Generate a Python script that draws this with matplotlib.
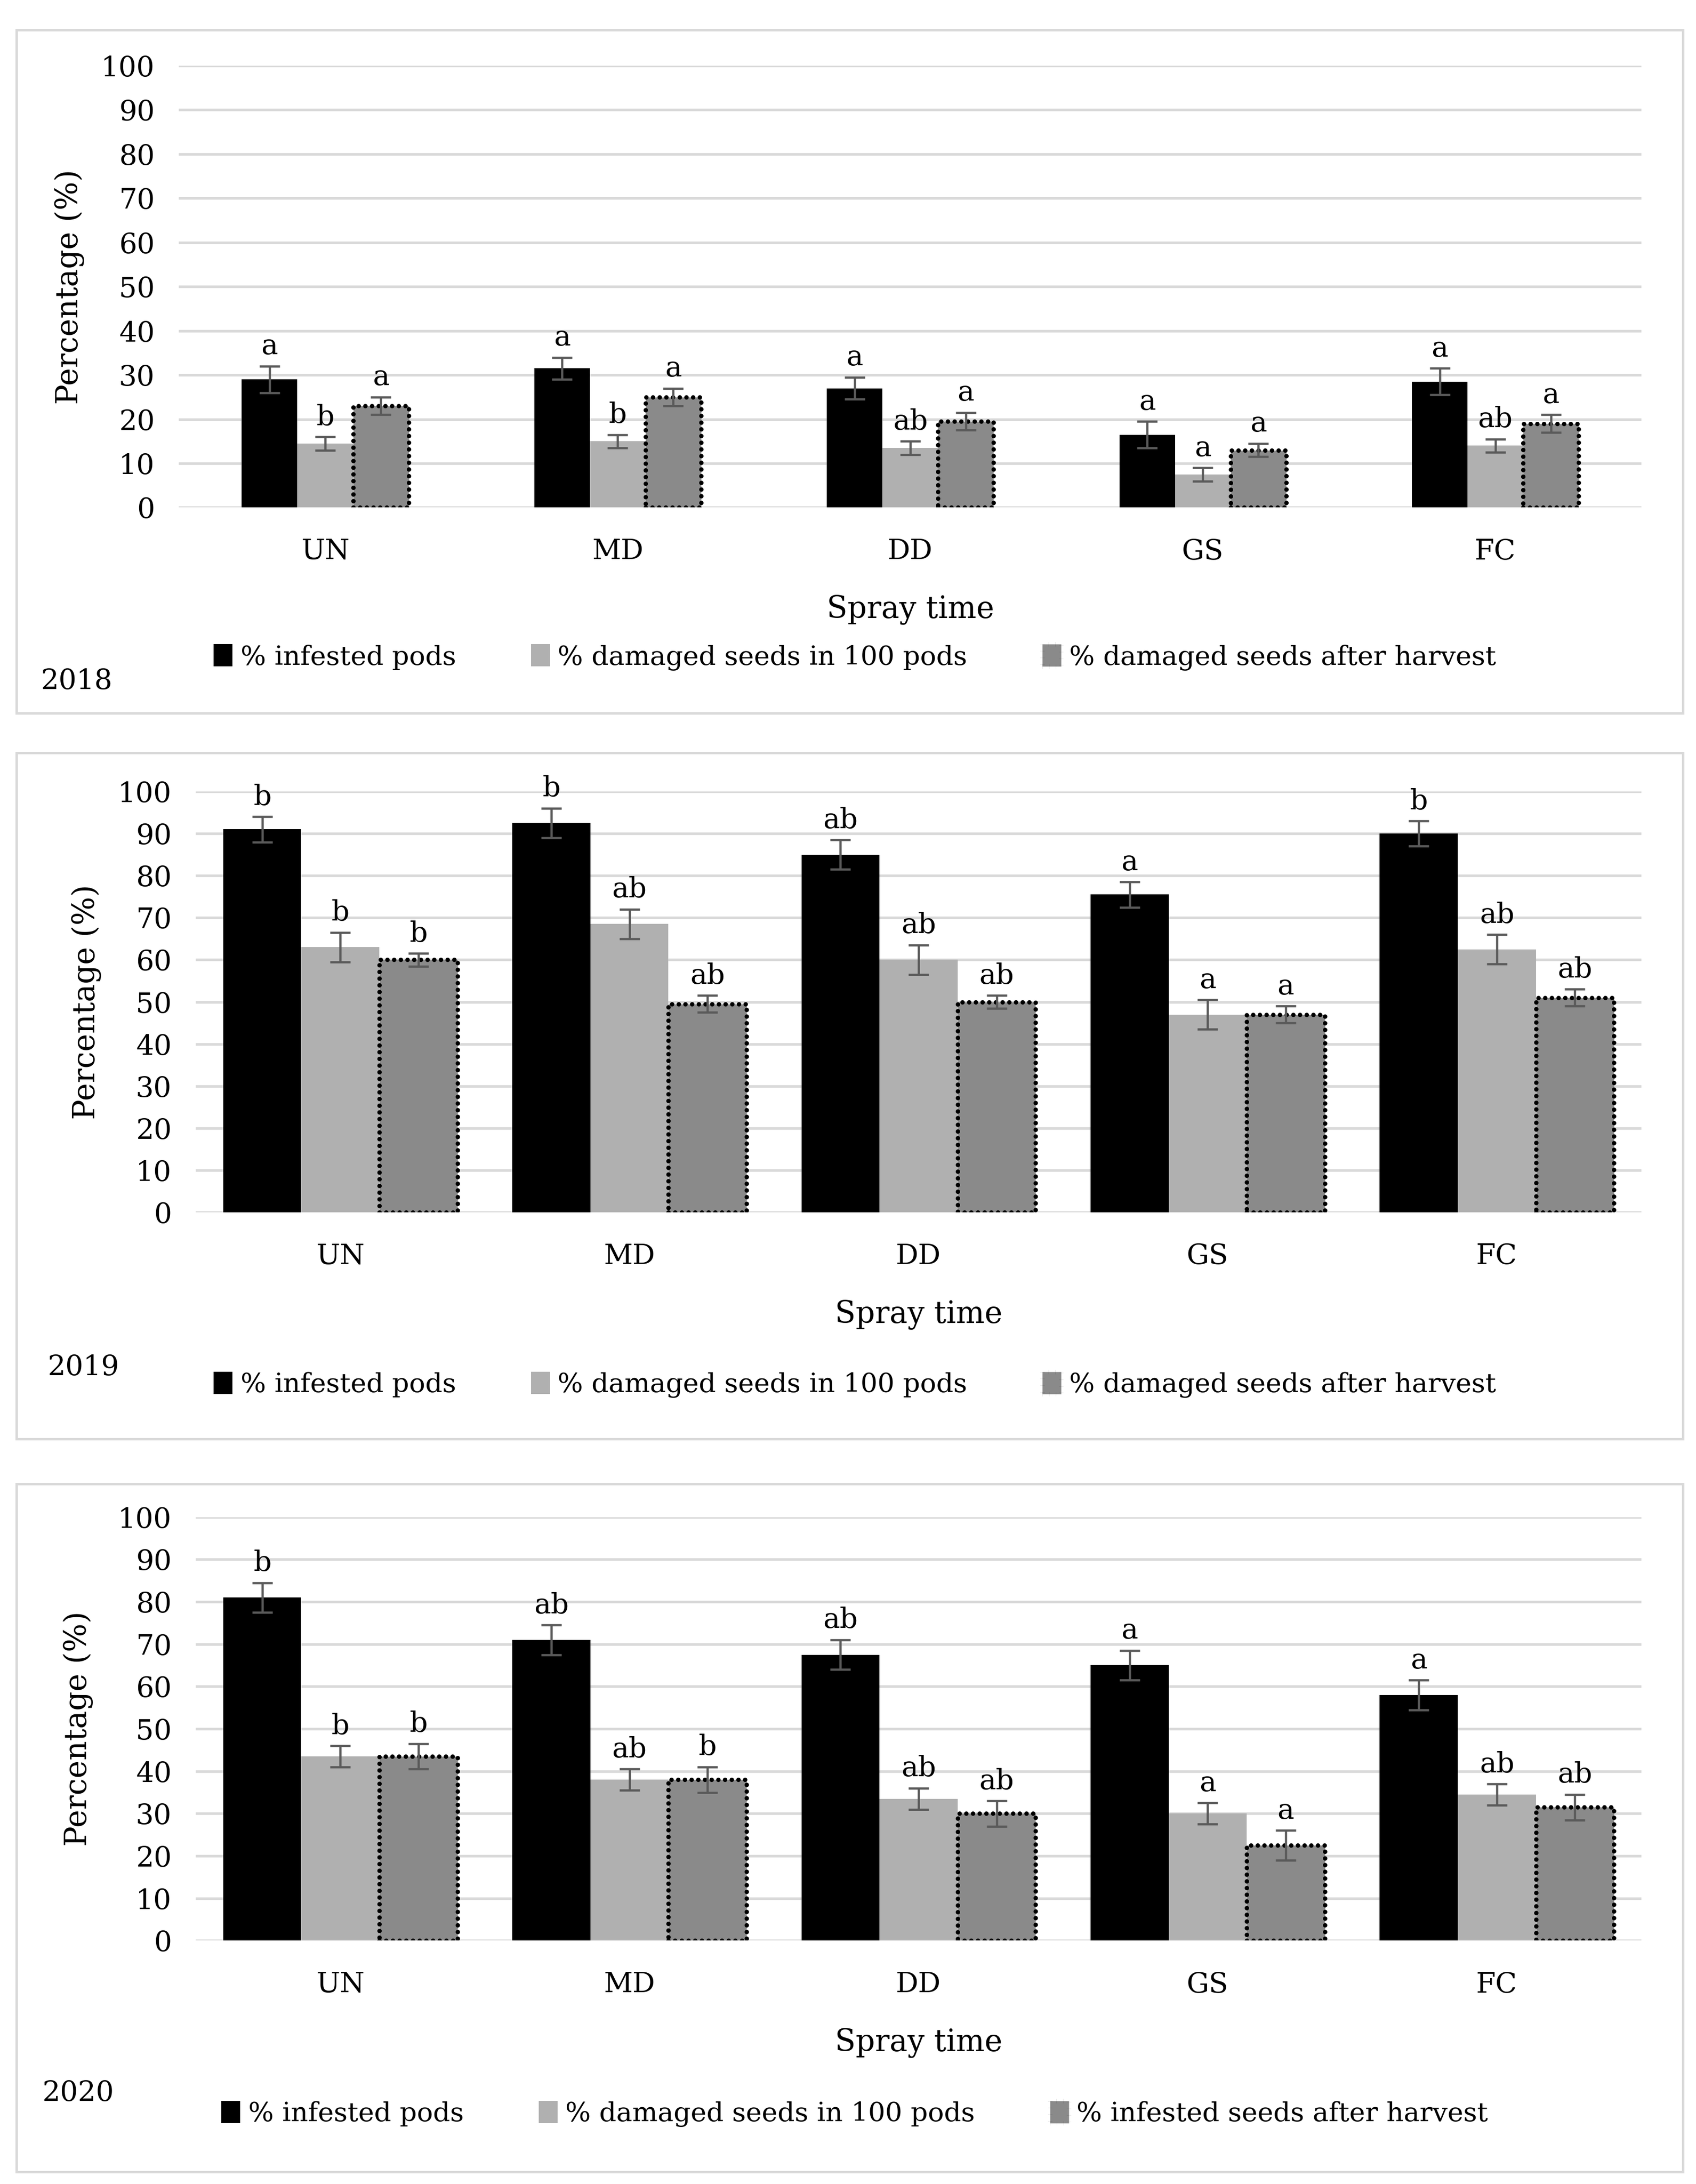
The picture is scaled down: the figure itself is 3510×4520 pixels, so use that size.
import numpy as np
from matplotlib import pyplot as plt
from matplotlib.patches import Rectangle, Patch

plt.rcParams['font.family'] = ['DejaVu Serif']

categories = ['UN', 'MD', 'DD', 'GS', 'FC']
years = ['2018', '2019', '2020']

# 2018
inf_2018 = [29, 31.5, 27, 16.5, 28.5]
dam_2018 = [14.5, 15, 13.5, 7.5, 14]
aft_2018 = [23, 25, 19.5, 13, 19]
inf_err_2018 = [3, 2.5, 2.5, 3, 3]
dam_err_2018 = [1.5, 1.5, 1.5, 1.5, 1.5]
aft_err_2018 = [2, 2, 2, 1.5, 2]
inf_let_2018 = ['a', 'a', 'a', 'a', 'a']
dam_let_2018 = ['b', 'b', 'ab', 'a', 'ab']
aft_let_2018 = ['a', 'a', 'a', 'a', 'a']

# 2019
inf_2019 = [91, 92.5, 85, 75.5, 90]
dam_2019 = [63, 68.5, 60, 47, 62.5]
aft_2019 = [60, 49.5, 50, 47, 51]
inf_err_2019 = [3, 3.5, 3.5, 3, 3]
dam_err_2019 = [3.5, 3.5, 3.5, 3.5, 3.5]
aft_err_2019 = [1.5, 2, 1.5, 2, 2]
inf_let_2019 = ['b', 'b', 'ab', 'a', 'b']
dam_let_2019 = ['b', 'ab', 'ab', 'a', 'ab']
aft_let_2019 = ['b', 'ab', 'ab', 'a', 'ab']

# 2020
inf_2020 = [81, 71, 67.5, 65, 58]
dam_2020 = [43.5, 38, 33.5, 30, 34.5]
aft_2020 = [43.5, 38, 30, 22.5, 31.5]
inf_err_2020 = [3.5, 3.5, 3.5, 3.5, 3.5]
dam_err_2020 = [2.5, 2.5, 2.5, 2.5, 2.5]
aft_err_2020 = [3, 3, 3, 3.5, 3]
inf_let_2020 = ['b', 'ab', 'ab', 'a', 'a']
dam_let_2020 = ['b', 'ab', 'ab', 'a', 'ab']
aft_let_2020 = ['b', 'b', 'ab', 'a', 'ab']

series_names = ['% infested pods', '% damaged seeds in 100 pods', '% damaged seeds after harvest']
series_names_2020 = ['% infested pods', '% damaged seeds in 100 pods', '% infested seeds after harvest']

BLACK = '#000000'
LIGHT = '#b0b0b0'
DARK = '#8a8a8a'
GRID = '#d9d9d9'
ERR = '#5a5a5a'
DOTS = (0, (0.01, 1.5))
DOT_LW = 2.2

fig = plt.figure(figsize=(11.7, 15.0667), dpi=300)

panels = [
    dict(vals=[inf_2018, dam_2018, aft_2018], errs=[inf_err_2018, dam_err_2018, aft_err_2018],
         lets=[inf_let_2018, dam_let_2018, aft_let_2018], names=series_names,
         pos=[0.1055, 0.7676, 0.8624, 0.2023], w=0.19, box=(0.0097, 0.6735, 0.9826, 0.3128),
         leg_y=0.699, year=(0.045, 0.688), spray_y=0.7209, ylab_x=0.041),
    dict(vals=[inf_2019, dam_2019, aft_2019], errs=[inf_err_2019, dam_err_2019, aft_err_2019],
         lets=[inf_let_2019, dam_let_2019, aft_let_2019], names=series_names,
         pos=[0.1154, 0.4449, 0.8524, 0.1927], w=0.27, box=(0.0097, 0.3412, 0.9826, 0.3141),
         leg_y=0.366, year=(0.049, 0.374), spray_y=0.398, ylab_x=0.051),
    dict(vals=[inf_2020, dam_2020, aft_2020], errs=[inf_err_2020, dam_err_2020, aft_err_2020],
         lets=[inf_let_2020, dam_let_2020, aft_let_2020], names=series_names_2020,
         pos=[0.1154, 0.1114, 0.8524, 0.1940], w=0.27, box=(0.0097, 0.0055, 0.9826, 0.3151),
         leg_y=0.032, year=(0.046, 0.0416), spray_y=0.0647, ylab_x=0.046),
]

x = np.arange(len(categories))
colors = [BLACK, LIGHT, DARK]

for p, yr in zip(panels, years):
    # panel frame
    fig.patches.append(Rectangle(p['box'][:2], p['box'][2], p['box'][3], transform=fig.transFigure,
                                 facecolor='none', edgecolor=GRID, linewidth=1.2))
    ax = fig.add_axes(p['pos'])
    w = p['w']
    for i in range(3):
        xs = x + (i - 1) * w
        if i == 2:
            bars = ax.bar(xs, p['vals'][i], w, color=colors[i], edgecolor='black',
                          linewidth=DOT_LW, linestyle=DOTS, zorder=3)
            for b in bars:
                b.set_capstyle('round')
        else:
            ax.bar(xs, p['vals'][i], w, color=colors[i], edgecolor='none', zorder=3)
        ax.errorbar(xs, p['vals'][i], yerr=p['errs'][i], fmt='none', ecolor=ERR,
                    elinewidth=1.1, capsize=5, capthick=1.1, zorder=4)
        for xi, v, e, t in zip(xs, p['vals'][i], p['errs'][i], p['lets'][i]):
            ax.annotate(t, (xi, v + e), xytext=(0, 3), textcoords='offset points',
                        ha='center', va='bottom', fontsize=14)
    ax.set_xlim(-0.5, 4.5)
    ax.set_ylim(0, 100)
    ax.set_yticks(range(0, 101, 10))
    ax.set_xticks(x)
    ax.set_xticklabels(categories)
    ax.grid(axis='y', color=GRID, linewidth=1.3, zorder=0)
    ax.set_axisbelow(True)
    for s in ax.spines.values():
        s.set_visible(False)
    ax.tick_params(axis='both', length=0, labelsize=14)
    ax.tick_params(axis='x', pad=15)
    ax.tick_params(axis='y', pad=12)

    cx = p['pos'][0] + p['pos'][2] / 2
    cy = p['pos'][1] + p['pos'][3] / 2
    fig.text(cx, p['spray_y'], 'Spray time', ha='center', va='center', fontsize=15)
    fig.text(p['ylab_x'], cy, 'Percentage (%)', rotation=90, ha='center', va='center', fontsize=15)
    fig.text(p['year'][0], p['year'][1], yr, ha='center', va='center', fontsize=14)

    handles = [Patch(facecolor=BLACK, edgecolor='none'),
               Patch(facecolor=LIGHT, edgecolor='none'),
               Patch(facecolor=DARK, edgecolor='black', linewidth=DOT_LW, linestyle=DOTS,
                     capstyle='round')]
    fig.legend(handles, p['names'], loc='center', bbox_to_anchor=(0.504, p['leg_y']),
               ncol=3, frameon=False, fontsize=13.3, handlelength=0.7, handleheight=0.9,
               handletextpad=0.3, columnspacing=2.8)

plt.savefig('out.png', dpi=300)
